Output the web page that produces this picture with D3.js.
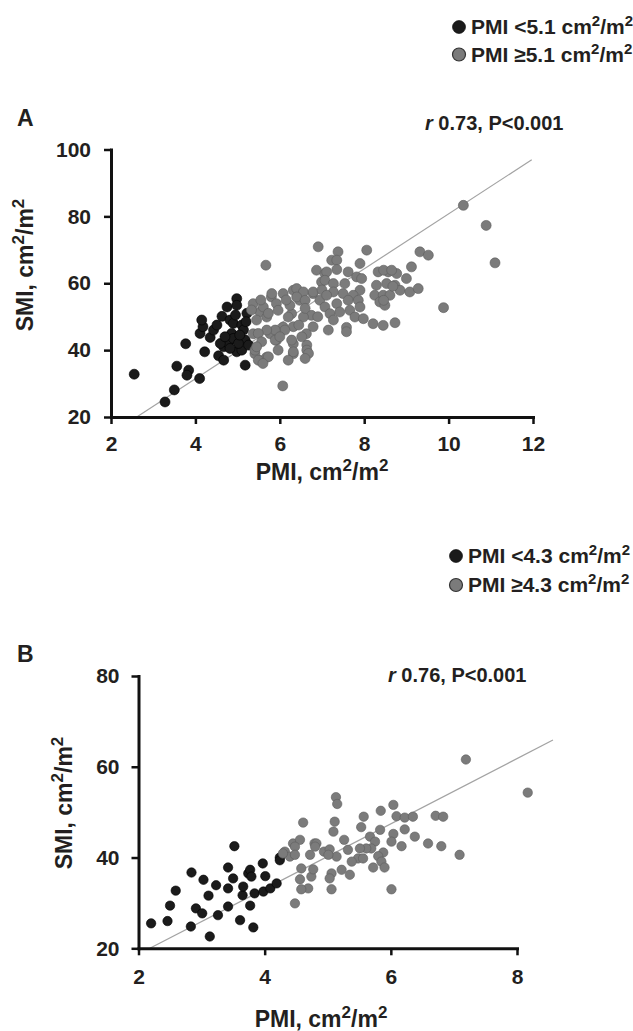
<!DOCTYPE html>
<html>
<head>
<meta charset="utf-8">
<script src="https://cdn.jsdelivr.net/npm/d3@7"></script>
<style>
  body { margin: 0; background: #fff; }
  text { font-family: 'Liberation Sans', Arial, sans-serif; font-weight: bold; fill: #231f20; }
</style>
</head>
<body>
<div id="chart"></div>
<script>
// ---- data: [PMI, SMI] ----
const aLow = [
  [2.55, 32.8], [3.28, 24.5], [3.5, 28.1], [3.56, 35.2], [3.84, 34.0], [3.8, 32.5],
  [3.77, 41.9], [4.1, 31.5], [4.22, 39.5], [4.11, 45.0], [4.18, 47.0], [4.15, 49.0],
  [4.35, 43.8], [4.43, 46.0], [4.51, 47.5], [4.55, 38.3], [4.63, 50.1], [4.75, 52.9],
  [4.67, 37.0], [4.67, 41.0], [4.78, 42.0], [4.59, 42.0], [4.82, 49.0], [4.9, 48.0],
  [4.98, 55.4], [4.98, 53.4], [4.86, 45.0], [4.9, 43.5], [4.98, 39.5], [5.1, 40.0],
  [5.1, 47.5], [5.14, 46.0], [5.18, 43.0], [5.22, 51.0], [5.18, 35.5], [5.26, 41.5],
  [5.02, 42.0], [4.82, 40.5], [4.7, 44.0], [5.05, 44.5], [5.2, 48.5], [4.95, 50.5]
];
const aHigh = [
  [5.37, 53.9], [5.53, 51.4], [5.69, 49.9], [5.37, 44.9], [5.41, 38.9], [5.53, 36.9],
  [5.69, 37.9], [5.77, 44.9], [5.92, 42.9], [6.08, 46.9], [5.8, 55.9], [6.08, 56.9],
  [6.32, 57.9], [6.47, 54.9], [6.28, 50.9], [6.32, 41.9], [6.32, 38.9], [6.63, 44.9],
  [6.79, 56.9], [6.87, 63.9], [6.91, 70.9], [5.67, 65.4], [6.07, 29.3],
  [5.61, 52.9], [5.81, 56.9], [5.73, 51.0], [5.92, 53.9], [5.96, 51.9], [6.24, 53.4],
  [6.4, 58.4], [6.56, 57.4], [6.4, 55.9], [6.6, 54.9], [6.79, 57.4], [7.07, 62.9],
  [6.99, 60.4], [7.23, 66.9], [6.95, 54.9], [7.07, 52.9], [6.75, 50.4], [6.56, 49.9],
  [6.2, 49.9], [6.32, 47.0], [6.12, 46.0], [5.89, 46.0], [5.69, 46.0], [5.49, 45.0],
  [5.57, 42.5], [5.41, 40.0], [5.49, 37.0], [5.73, 38.0], [5.89, 43.0], [5.96, 40.0],
  [6.28, 43.0], [6.32, 39.5], [6.64, 41.5], [6.64, 40.0], [6.52, 44.0], [6.79, 47.0],
  [7.15, 46.0], [5.33, 52.0], [5.45, 49.0], [6.68, 39.0], [6.6, 37.5], [6.2, 37.0],
  [5.6, 36.0], [5.45, 41.0], [6.0, 44.0], [6.45, 47.5], [6.9, 50.0], [7.0, 58.0],
  [6.6, 52.5], [6.15, 55.0], [5.55, 55.0],
  [7.38, 69.4], [8.06, 69.9], [7.9, 65.9], [7.35, 66.9], [7.35, 64.1], [7.62, 63.4],
  [7.82, 61.9], [7.94, 61.4], [7.11, 63.4], [7.07, 60.9], [7.27, 59.9], [7.54, 59.9],
  [8.33, 63.4], [8.57, 63.4], [8.77, 62.9], [9.0, 61.4], [9.12, 64.9], [9.32, 69.4],
  [9.52, 68.4], [8.29, 59.4], [8.53, 59.9], [8.73, 59.4], [8.85, 57.9], [9.08, 57.4],
  [9.28, 58.4], [8.25, 56.4], [8.45, 56.4], [8.37, 54.4], [8.49, 53.4], [7.9, 57.9],
  [7.74, 56.4], [7.5, 56.9], [7.27, 57.4], [7.11, 56.4], [7.62, 54.9], [7.86, 54.9],
  [7.35, 53.9], [7.19, 50.9], [7.42, 51.4], [7.66, 51.9], [7.9, 52.9], [7.78, 49.9],
  [7.98, 49.4], [8.21, 47.9], [8.45, 47.4], [8.73, 48.2], [7.58, 46.8], [7.58, 45.5],
  [7.27, 49.0], [10.35, 83.3], [10.89, 77.3], [11.1, 66.1], [9.88, 52.7],
  [8.46, 63.9], [8.65, 63.9], [8.61, 56.4], [8.46, 54.9], [8.68, 59.1]
];
const bLow = [
  [2.2, 25.5], [2.46, 26.0], [2.5, 29.4], [2.59, 32.7], [2.83, 24.8], [2.84, 36.7],
  [2.91, 28.8], [3.01, 27.7], [3.03, 35.1], [3.11, 31.6], [3.13, 22.6], [3.23, 33.9],
  [3.26, 27.3], [3.42, 33.2], [3.42, 37.8], [3.42, 29.2], [3.5, 35.4], [3.52, 42.5],
  [3.61, 26.2], [3.65, 31.7], [3.66, 33.6], [3.74, 36.5], [3.77, 37.3], [3.79, 35.8],
  [3.77, 29.4], [3.82, 24.6], [3.84, 32.1], [3.98, 32.5], [3.97, 38.7], [4.01, 35.9],
  [4.09, 33.2], [4.19, 34.3], [4.24, 40.0], [4.24, 39.4]
];
const bHigh = [
  [4.61, 47.7], [4.45, 43.1], [4.56, 43.9], [4.48, 42.4], [4.32, 41.3], [4.4, 40.2],
  [4.48, 40.6], [4.72, 40.6], [4.79, 43.1], [4.58, 37.6], [4.56, 35.2], [4.74, 35.8],
  [4.77, 37.4], [4.69, 33.2], [4.58, 33.0], [4.48, 29.9], [7.19, 61.6], [8.17, 54.3],
  [5.13, 53.3], [5.15, 51.8], [6.04, 51.6], [5.11, 47.9], [5.57, 49.0], [5.84, 50.3],
  [6.09, 49.1], [6.22, 48.8], [6.35, 49.0], [6.71, 49.2], [6.83, 49.0], [5.53, 46.7],
  [5.09, 45.7], [5.83, 46.1], [6.22, 46.2], [6.04, 45.2], [6.38, 44.6], [6.59, 43.1],
  [6.8, 42.5], [7.09, 40.6], [6.17, 42.5], [6.01, 43.5], [5.88, 41.1], [5.67, 44.6],
  [5.75, 43.5], [5.69, 42.0], [5.61, 42.0], [5.51, 42.0], [5.48, 39.8], [5.56, 39.8],
  [5.38, 39.1], [5.26, 43.9], [5.32, 41.7], [5.14, 40.2], [4.82, 43.1], [4.8, 42.4],
  [4.94, 41.3], [5.03, 41.8], [5.01, 40.6], [5.22, 37.3], [5.06, 36.5], [5.03, 35.4],
  [5.35, 36.2], [5.06, 33.0], [5.8, 40.3], [5.85, 39.1], [5.9, 37.8], [5.72, 37.8],
  [6.01, 33.0], [4.29, 40.9]
];

// ticks
const aXTicks = [2, 4, 6, 8, 10, 12];
const aYTicks = [20, 40, 60, 80, 100];
const bXTicks = [2, 4, 6, 8];
const bYTicks = [20, 40, 60, 80];

// regression fits: [slope, intercept], and PMI span of the drawn line
const aFit = [8.22, -1.45];
const aFitSpan = [2.61, 11.97];
const bFit = [7.18, 4.35];
const bFitSpan = [2.18, 8.57];

// labels
const aLegend = ['<5.1', '≥5.1'];
const bLegend = ['<4.3', '≥4.3'];
const aStat = '0.73, P<0.001';
const bStat = '0.76, P<0.001';

const lowColor = '#1b1b1b';
const highColor = '#7b7b7b';

const svg = d3.select('#chart').append('svg')
  .attr('width', 633)
  .attr('height', 1031);

// text with superscript "2"s, pieces: strings, or {sup: '2'}
function richText(sel, pieces, size) {
  const supSize = Math.round(size * 0.72);
  const shift = Math.round(size * 0.4);
  let raised = false;
  pieces.forEach((p) => {
    if (typeof p === 'string') {
      sel.append('tspan').attr('dy', raised ? shift : 0).text(p);
      raised = false;
    } else {
      sel.append('tspan').attr('dy', -shift).attr('font-size', supSize).text(p.sup);
      raised = true;
    }
  });
}
const unitPieces = (lead) => [lead + ', cm', { sup: '2' }, '/m', { sup: '2' }];

function drawPanel(cfg) {
  const x = d3.scaleLinear().domain(cfg.xDomain).range([cfg.left, cfg.right]);
  const y = d3.scaleLinear().domain(cfg.yDomain).range([cfg.bottom, cfg.top]);
  const g = svg.append('g');

  // regression line
  g.append('line')
    .attr('x1', x(cfg.span[0]))
    .attr('y1', y(cfg.fit[0] * cfg.span[0] + cfg.fit[1]))
    .attr('x2', x(cfg.span[1]))
    .attr('y2', y(cfg.fit[0] * cfg.span[1] + cfg.fit[1]))
    .attr('stroke', '#a3a3a3')
    .attr('stroke-width', 1.2);

  // points
  [[cfg.low, lowColor, '#000'], [cfg.high, highColor, '#5e5e5e']].forEach(([pts, fill, stroke]) => {
    g.selectAll(null)
      .data(pts)
      .enter()
      .append('circle')
      .attr('cx', (d) => x(d[0]))
      .attr('cy', (d) => y(d[1]))
      .attr('r', cfg.r)
      .attr('fill', fill)
      .attr('stroke', stroke)
      .attr('stroke-width', 0.6);
  });

  // axes
  const fmt = d3.format('d');
  const xAxis = g.append('g')
    .attr('transform', `translate(0, ${cfg.bottom})`)
    .call(d3.axisBottom(x).tickValues(cfg.xTicks).tickFormat(fmt)
      .tickSize(7).tickSizeOuter(0).tickPadding(cfg.xPad));
  const yAxis = g.append('g')
    .attr('transform', `translate(${cfg.left}, 0)`)
    .call(d3.axisLeft(y).tickValues(cfg.yTicks).tickFormat(fmt)
      .tickSize(7).tickSizeOuter(0).tickPadding(cfg.yPad));
  [xAxis, yAxis].forEach((ax) => {
    ax.select('.domain').attr('stroke', '#111').attr('stroke-width', 3).attr('stroke-linecap', 'square');
    ax.selectAll('.tick line').attr('stroke', '#111').attr('stroke-width', 2.5);
    ax.selectAll('.tick text')
      .attr('fill', '#231f20')
      .attr('font-size', 21)
      .attr('font-family', "'Liberation Sans', Arial, sans-serif")
      .attr('font-weight', 'bold');
  });

  // axis titles
  const xt = g.append('text')
    .attr('x', cfg.xTitle[0])
    .attr('y', cfg.xTitle[1])
    .attr('text-anchor', 'middle')
    .attr('font-size', 23);
  richText(xt, unitPieces('PMI'), 23);

  const yt = g.append('text')
    .attr('transform', `translate(${cfg.yTitle[0]}, ${cfg.yTitle[1]}) rotate(-90)`)
    .attr('text-anchor', 'middle')
    .attr('font-size', 23);
  richText(yt, unitPieces('SMI'), 23);

  // panel letter
  g.append('text')
    .attr('x', cfg.letterPos[0])
    .attr('y', cfg.letterPos[1])
    .attr('font-size', 23)
    .text(cfg.letter);

  // correlation
  const st = g.append('text')
    .attr('x', cfg.statPos[0])
    .attr('y', cfg.statPos[1])
    .attr('font-size', 20);
  st.append('tspan').attr('font-style', 'italic').text('r');
  st.append('tspan').text(' ' + cfg.stat);

  // legend
  cfg.legend.forEach((lab, i) => {
    const ly = cfg.legendPos[1] + i * cfg.legendGap;
    g.append('circle')
      .attr('cx', cfg.legendPos[0])
      .attr('cy', ly)
      .attr('r', 6.5)
      .attr('fill', i === 0 ? lowColor : highColor)
      .attr('stroke', i === 0 ? '#000' : '#333')
      .attr('stroke-width', i === 0 ? 0.6 : 1.2);
    const lt = g.append('text')
      .attr('x', cfg.legendPos[0] + 12)
      .attr('y', ly + 7)
      .attr('font-size', 21);
    richText(lt, ['PMI ' + lab + ' cm', { sup: '2' }, '/m', { sup: '2' }], 21);
  });
}

drawPanel({
  low: aLow, high: aHigh, fit: aFit, span: aFitSpan,
  xDomain: [2, 12], yDomain: [20, 100], xTicks: aXTicks, yTicks: aYTicks,
  left: 111, right: 533, top: 149.5, bottom: 417, r: 5,
  xPad: 12, yPad: 13,
  xTitle: [322, 480], yTitle: [33, 265],
  letter: 'A', letterPos: [17, 126],
  stat: aStat, statPos: [425, 130],
  legend: aLegend, legendPos: [459, 27], legendGap: 27.5
});

drawPanel({
  low: bLow, high: bHigh, fit: bFit, span: bFitSpan,
  xDomain: [2, 8], yDomain: [20, 80], xTicks: bXTicks, yTicks: bYTicks,
  left: 138.5, right: 517, top: 676, bottom: 948.3, r: 4.7,
  xPad: 14, yPad: 12,
  xTitle: [321, 1027], yTitle: [72, 803],
  letter: 'B', letterPos: [17, 662],
  stat: bStat, statPos: [388, 682],
  legend: bLegend, legendPos: [456, 556], legendGap: 29
});
</script>
</body>
</html>
